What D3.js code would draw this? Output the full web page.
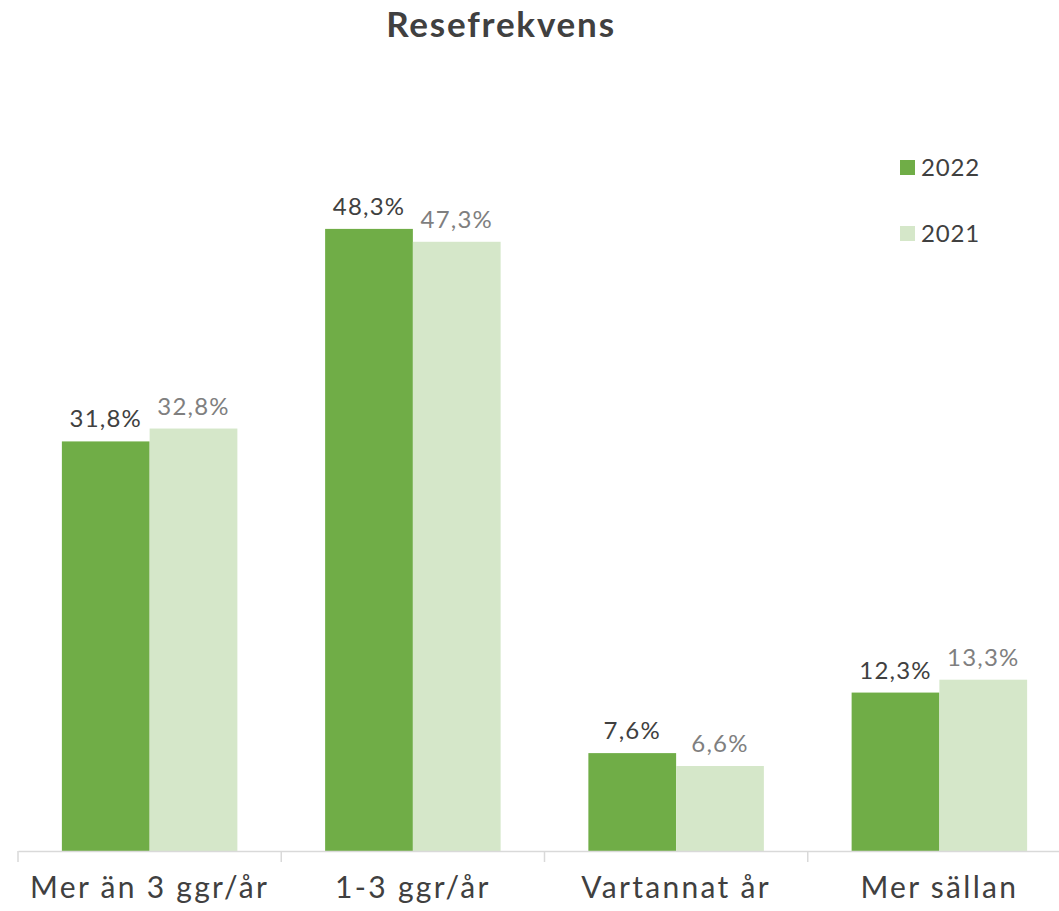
<!DOCTYPE html>
<html>
<head>
<meta charset="utf-8">
<script src="https://cdn.jsdelivr.net/npm/d3@7"></script>
<style>
  body { margin: 0; background: #fff; overflow: hidden; }
  svg { display: block; }
  text { font-family: "Lato", "Open Sans", sans-serif; }
</style>
</head>
<body>
<script>
var w = 1059,
    h = 911;

var categories = ["Mer än 3 ggr/år", "1-3 ggr/år", "Vartannat år", "Mer sällan"];
var seriesNames = ["2022", "2021"];
var values2022 = [31.8, 48.3, 7.6, 12.3];
var values2021 = [32.8, 47.3, 6.6, 13.3];
var colors = ["#70ad47", "#d5e7c9"];
var labelColors = ["#404040", "#7f7f7f"];

var rows = categories.map(function(c, i) {
  return {cat: c, vals: [values2022[i], values2021[i]]};
});

var svg = d3.select("body").append("svg")
  .attr("width", w).attr("height", h);

var x0 = d3.scaleBand().domain(categories).range([18, 1071]).paddingInner(0).paddingOuter(0);
var x1 = d3.scaleBand().domain(seriesNames).range([0, x0.bandwidth()]).paddingInner(0).paddingOuter(0.5);
var y = d3.scaleLinear().domain([0, 50]).range([851, 207]);

// title
svg.append("text")
  .attr("x", 501).attr("y", 37)
  .attr("text-anchor", "middle")
  .attr("font-size", 35).attr("font-weight", "bold")
  .attr("letter-spacing", 1.8)
  .attr("fill", "#404040")
  .text("Resefrekvens");

function pairs(d) {
  return d.vals.map(function(v, j) { return {name: seriesNames[j], v: v, j: j}; });
}

var groups = svg.selectAll("g.grp")
  .data(rows)
  .enter().append("g")
  .attr("class", "grp")
  .attr("transform", function(d) { return "translate(" + x0(d.cat) + ",0)"; });

groups.selectAll("rect")
  .data(pairs)
  .enter().append("rect")
  .attr("x", function(d) { return x1(d.name); })
  .attr("y", function(d) { return y(d.v); })
  .attr("width", x1.bandwidth())
  .attr("height", function(d) { return y(0) - y(d.v); })
  .attr("fill", function(d) { return colors[d.j]; });

groups.selectAll("text.lbl")
  .data(pairs)
  .enter().append("text")
  .attr("class", "lbl")
  .attr("x", function(d) { return x1(d.name) + x1.bandwidth() / 2; })
  .attr("y", function(d) { return y(d.v) - 14; })
  .attr("text-anchor", "middle")
  .attr("font-size", 24)
  .attr("letter-spacing", 1.2)
  .attr("fill", function(d) { return labelColors[d.j]; })
  .text(function(d) { return d.v.toFixed(1).replace(".", ",") + "%"; });

// axis
var axis = d3.axisBottom(x0).tickSize(0).tickPadding(26);
var ax = svg.append("g").attr("transform", "translate(0,851)").call(axis);
ax.select(".domain").attr("stroke", "#d9d9d9").attr("stroke-width", 1.5);
ax.selectAll("text").attr("font-size", 30).attr("fill", "#404040")
  .attr("letter-spacing", 2.3)
  .attr("font-family", "Lato, 'Open Sans', sans-serif");

// category dividers
svg.selectAll("line.tick-div")
  .data(categories)
  .enter().append("line")
  .attr("class", "tick-div")
  .attr("x1", function(d) { return x0(d); })
  .attr("x2", function(d) { return x0(d); })
  .attr("y1", 851).attr("y2", 862)
  .attr("stroke", "#d9d9d9").attr("stroke-width", 1.5);

// legend
var legend = svg.selectAll("g.leg")
  .data(seriesNames)
  .enter().append("g")
  .attr("class", "leg")
  .attr("transform", function(d, i) { return "translate(900," + (160 + i * 66) + ")"; });
legend.append("rect")
  .attr("width", 15).attr("height", 15)
  .attr("fill", function(d, i) { return colors[i]; });
legend.append("text")
  .attr("x", 21).attr("y", 16)
  .attr("font-size", 24).attr("letter-spacing", 0.8).attr("fill", "#404040")
  .text(function(d) { return d; });
</script>
</body>
</html>
